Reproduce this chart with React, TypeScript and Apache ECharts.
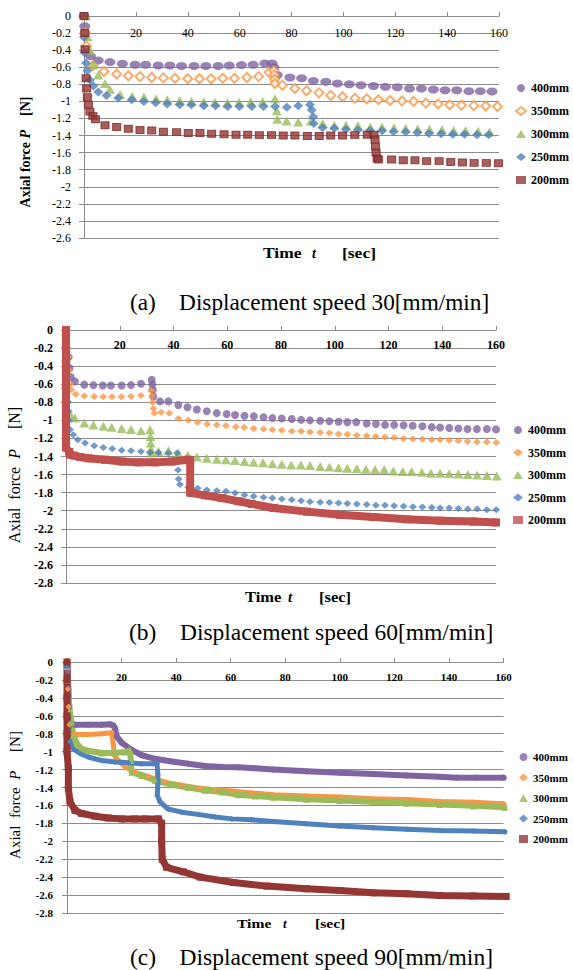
import React, { useEffect, useRef } from "react";
import * as echarts from "echarts";

type P = [number, number][];

const NAMES = ["400mm", "350mm", "300mm", "250mm", "200mm"];
const X_MIN = 0;
const X_MAX = 160;
const X_STEP = 20;
const Y_STEP = 0.2;
const Y_MINS = [-2.6, -2.8, -2.8];
const CAPTIONS = [
  "(a)    Displacement speed 30[mm/min]",
  "(b)    Displacement speed 60[mm/min]",
  "(c)    Displacement speed 90[mm/min]",
];

// ---------- (a) displacement speed 30 mm/min ----------
const a400: P = [[0,0],[0.3,-0.12],[2.5,-0.47],[5.5,-0.52],[10,-0.54],[14.8,-0.56],[19.7,-0.57],[23.8,-0.57],[28.6,-0.58],[33.1,-0.58],[37.6,-0.585],[42.4,-0.585],[47,-0.585],[51.7,-0.585],[56,-0.58],[60.7,-0.575],[65.2,-0.57],[69.7,-0.555],[72.5,-0.555],[73.2,-0.6],[74.5,-0.69],[79.4,-0.72],[83.9,-0.73],[88.4,-0.76],[93.2,-0.77],[97.7,-0.79],[102.3,-0.8],[106.8,-0.81],[111.6,-0.82],[116.2,-0.83],[120.8,-0.835],[125.5,-0.85],[130.1,-0.85],[134.7,-0.86],[139.2,-0.87],[143.7,-0.87],[148.4,-0.88],[152.8,-0.88],[157.3,-0.885]];
const a350: P = [[0.5,-0.2],[1,-0.35],[3.5,-0.58],[7.7,-0.65],[12.6,-0.68],[17.1,-0.7],[21.6,-0.71],[26.1,-0.72],[30.6,-0.725],[35.1,-0.73],[40,-0.735],[44.5,-0.735],[49,-0.735],[53.5,-0.73],[58,-0.73],[62.8,-0.72],[67.3,-0.71],[71.4,-0.66],[73.2,-0.64],[73.4,-0.69],[73.5,-0.74],[73.6,-0.79],[76.5,-0.81],[81.3,-0.85],[85.8,-0.875],[90.6,-0.9],[95.1,-0.93],[99.7,-0.945],[104.5,-0.965],[109,-0.97],[113.5,-0.98],[118,-0.99],[122.6,-0.995],[127.1,-1.0],[131.8,-1.02],[136.5,-1.03],[141,-1.04],[145.5,-1.045],[150.3,-1.05],[154.9,-1.055],[159.4,-1.06]];
const a300: P = [[0.8,0],[1.3,-0.24],[2.3,-0.4],[3.6,-0.57],[5.5,-0.69],[8.1,-0.79],[10,-0.86],[13.9,-0.92],[18.6,-0.94],[23.1,-0.95],[27.8,-0.97],[32.1,-0.98],[36.9,-0.99],[41.4,-1.0],[46.2,-1.005],[50.5,-1.01],[55.3,-1.015],[59.8,-1.01],[64.3,-1.005],[68.9,-1.0],[73.6,-0.97],[74.3,-1.11],[74.5,-1.21],[78.1,-1.23],[82.6,-1.24],[87.5,-1.23],[92,-1.26],[96.5,-1.28],[101,-1.28],[105.6,-1.285],[110.4,-1.3],[114.9,-1.3],[119.5,-1.31],[124,-1.315],[128.7,-1.32],[133.2,-1.325],[138,-1.33],[142.5,-1.34],[147.1,-1.345],[151.9,-1.35],[156.4,-1.36]];
const a250: P = [[0,-0.25],[0.3,-0.43],[0.8,-0.55],[1.3,-0.64],[2.3,-0.75],[3.6,-0.82],[5.5,-0.89],[8.7,-0.93],[13.2,-0.96],[18.4,-0.98],[23.1,-1.0],[27.6,-1.015],[32.1,-1.03],[36.9,-1.04],[41.4,-1.04],[46.2,-1.05],[50.7,-1.05],[55.4,-1.06],[59.9,-1.06],[64.7,-1.06],[69.2,-1.06],[73.7,-1.06],[78.2,-1.07],[82.6,-1.05],[87.1,-1.04],[87.8,-1.1],[88.4,-1.18],[88.6,-1.26],[92,-1.31],[96.5,-1.315],[101,-1.33],[105.6,-1.335],[110.2,-1.34],[114.9,-1.345],[119.3,-1.355],[124,-1.36],[128.5,-1.365],[133,-1.375],[137.7,-1.38],[142.2,-1.385],[146.7,-1.385],[151.5,-1.39],[156,-1.39]];
const a200: P = [[0,0],[0.3,-0.2],[0.4,-0.39],[0.8,-0.73],[1,-0.85],[1.3,-0.95],[1.7,-1.04],[2.3,-1.12],[3.4,-1.17],[4.4,-1.21],[8.1,-1.28],[12.6,-1.3],[17.1,-1.32],[21.6,-1.335],[26.1,-1.34],[30.6,-1.355],[35.7,-1.36],[40.2,-1.37],[44.7,-1.37],[49.2,-1.38],[54,-1.385],[58.6,-1.39],[63.1,-1.39],[67.6,-1.395],[72.3,-1.395],[76.8,-1.4],[81.3,-1.4],[86.1,-1.405],[90.7,-1.405],[95.1,-1.4],[99.7,-1.4],[104.4,-1.395],[109.2,-1.39],[111.8,-1.39],[112.2,-1.45],[112.4,-1.53],[112.6,-1.6],[113,-1.67],[113.5,-1.68],[118.6,-1.68],[123.1,-1.69],[127.6,-1.69],[132.1,-1.7],[136.9,-1.7],[141.4,-1.71],[145.9,-1.715],[150.4,-1.72],[155.1,-1.72],[159.8,-1.725]];

// ---------- (b) displacement speed 60 mm/min ----------
const b400: P = [[1,-0.3],[1.3,-0.42],[1.8,-0.52],[3.3,-0.57],[6.8,-0.605],[10.2,-0.61],[13.7,-0.615],[16.7,-0.615],[20.7,-0.615],[24.2,-0.61],[27.9,-0.595],[31.9,-0.55],[32.1,-0.6],[32.3,-0.66],[32.5,-0.735],[35,-0.79],[38.1,-0.79],[41.8,-0.83],[45.2,-0.855],[48.7,-0.88],[52.4,-0.9],[56.1,-0.92],[59.8,-0.93],[62.9,-0.94],[66.4,-0.95],[69.9,-0.955],[73.5,-0.965],[76.8,-0.975],[80.3,-0.98],[84,-0.985],[87.5,-0.995],[90.8,-1.0],[94.6,-1.005],[98,-1.01],[101.4,-1.015],[104.7,-1.02],[108,-1.02],[111.9,-1.035],[115.3,-1.04],[118.7,-1.05],[122.1,-1.05],[125.6,-1.055],[129,-1.06],[132.6,-1.065],[136.1,-1.075],[139.2,-1.08],[142.6,-1.085],[146,-1.09],[149.4,-1.095],[152.9,-1.095],[156.6,-1.095],[160,-1.1]];
const b350: P = [[0.8,-0.3],[1.2,-0.45],[1.6,-0.6],[2,-0.66],[3.6,-0.71],[6.8,-0.73],[10.5,-0.735],[13.8,-0.74],[17.1,-0.74],[20.6,-0.74],[24.2,-0.735],[27.9,-0.725],[31.7,-0.67],[32,-0.73],[32.2,-0.8],[32.5,-0.87],[32.9,-0.92],[35.4,-0.91],[38.4,-0.92],[41.8,-0.98],[45.5,-1.0],[49,-1.02],[52.5,-1.04],[56.1,-1.05],[59.5,-1.06],[63.2,-1.07],[66.3,-1.08],[69.8,-1.09],[73.5,-1.095],[76.8,-1.105],[80.3,-1.11],[84,-1.12],[87.5,-1.12],[90.8,-1.13],[94.6,-1.135],[98,-1.14],[101.4,-1.15],[104.7,-1.155],[108.2,-1.165],[111.9,-1.17],[115.3,-1.18],[118.7,-1.185],[122.1,-1.19],[125.6,-1.2],[129.1,-1.205],[132.6,-1.21],[136.1,-1.215],[139.2,-1.215],[142.6,-1.22],[146,-1.225],[149.4,-1.235],[152.9,-1.24],[156.6,-1.24],[160.1,-1.245]];
const b300: P = [[0,-0.02],[0,-0.15],[0,-0.3],[0,-0.45],[0,-0.6],[0,-0.75],[0,-0.9],[1.5,-0.93],[3.3,-0.975],[6.8,-1.03],[10.2,-1.05],[13.9,-1.065],[17,-1.075],[20.7,-1.09],[24.2,-1.1],[27.9,-1.115],[31.3,-1.105],[31.4,-1.18],[31.5,-1.25],[31.6,-1.32],[31.7,-1.36],[34.4,-1.345],[38.1,-1.335],[41.8,-1.36],[45.3,-1.39],[48.7,-1.405],[52.4,-1.42],[56.1,-1.43],[59.5,-1.435],[62.9,-1.445],[66.4,-1.455],[69.8,-1.465],[73.3,-1.47],[76.8,-1.48],[80.3,-1.485],[83.8,-1.495],[87.4,-1.495],[90.8,-1.5],[94.6,-1.51],[98,-1.515],[101.4,-1.525],[104.7,-1.53],[108.2,-1.535],[111.6,-1.54],[115,-1.545],[118.4,-1.545],[121.8,-1.56],[125.3,-1.565],[128.6,-1.565],[132.4,-1.575],[135.8,-1.585],[139.2,-1.585],[142.6,-1.59],[146,-1.595],[149.5,-1.6],[153,-1.605],[156.6,-1.61],[160.3,-1.615]];
const b250: P = [[0.8,-0.8],[1,-0.9],[1.2,-1.0],[1.5,-1.1],[2.7,-1.16],[4.4,-1.215],[7.1,-1.25],[10.5,-1.28],[13.9,-1.3],[17.2,-1.315],[20.7,-1.33],[24.2,-1.335],[27.9,-1.345],[31.3,-1.355],[34.4,-1.355],[38.1,-1.36],[41.3,-1.36],[41.5,-1.45],[41.7,-1.55],[41.9,-1.65],[42.4,-1.71],[45.5,-1.74],[49,-1.75],[52.4,-1.77],[56.1,-1.78],[59.5,-1.785],[62.9,-1.805],[66.4,-1.825],[69.8,-1.84],[73.5,-1.85],[76.8,-1.86],[80.3,-1.87],[84,-1.88],[87.5,-1.89],[90.8,-1.9],[94.6,-1.905],[98,-1.91],[101.4,-1.915],[104.7,-1.92],[108.2,-1.925],[111.9,-1.93],[115.3,-1.94],[118.7,-1.94],[122.1,-1.945],[125.6,-1.95],[129.1,-1.955],[132.6,-1.96],[136.1,-1.965],[139.2,-1.97],[142.6,-1.97],[146,-1.975],[149.5,-1.98],[153,-1.98],[156.6,-1.99],[160.1,-1.99]];
const b200: P = [[0,0],[0,-0.7],[0,-1.3],[1.2,-1.35],[1.5,-1.38],[3,-1.39],[5.2,-1.405],[8.3,-1.42],[14.5,-1.435],[20.7,-1.455],[26.9,-1.465],[33.1,-1.465],[39.4,-1.455],[45.5,-1.435],[46.2,-1.44],[46.2,-1.8],[47,-1.805],[51.8,-1.83],[58,-1.86],[64.1,-1.895],[69.1,-1.925],[77.2,-1.97],[89.6,-2.01],[102,-2.045],[114.4,-2.07],[126.8,-2.095],[139.2,-2.11],[151.6,-2.12],[160,-2.13]];

// ---------- (c) displacement speed 90 mm/min ----------
const c400: P = [[0,0],[0.3,-0.1],[0.5,-0.3],[0.8,-0.5],[1.1,-0.69],[2.9,-0.7],[7.8,-0.7],[12.7,-0.7],[15.8,-0.695],[17,-0.71],[17.6,-0.74],[18.2,-0.83],[20,-0.9],[23.7,-0.98],[27.4,-1.04],[32.3,-1.08],[38.4,-1.11],[44.5,-1.135],[50.6,-1.16],[56.7,-1.17],[62.8,-1.175],[68.9,-1.185],[75.6,-1.2],[87.8,-1.22],[100,-1.235],[112.3,-1.25],[124.5,-1.265],[136.7,-1.28],[142.8,-1.29],[150,-1.29],[160,-1.29]];
const c350: P = [[0.3,-0.3],[0.6,-0.5],[0.9,-0.7],[1.5,-0.79],[2.9,-0.81],[7.8,-0.81],[12.7,-0.8],[16.4,-0.79],[17,-0.93],[17.4,-1.04],[18,-1.07],[21.3,-1.17],[24.9,-1.23],[29.8,-1.28],[35.9,-1.34],[42,-1.375],[48.1,-1.405],[54.3,-1.425],[60.4,-1.44],[67.7,-1.46],[75.6,-1.48],[87.8,-1.495],[100,-1.505],[112.3,-1.525],[124.5,-1.535],[136.7,-1.555],[148.9,-1.565],[160,-1.58]];
const c300: P = [[0,-0.05],[0.3,-0.2],[0.6,-0.4],[1,-0.55],[1.7,-0.67],[2.3,-0.82],[3.6,-0.91],[5.4,-0.97],[7.8,-0.99],[12.7,-1.015],[17.6,-1.015],[21.3,-1.005],[23.1,-0.985],[23.4,-1.1],[23.7,-1.23],[27.4,-1.265],[32.3,-1.32],[38.4,-1.37],[44.5,-1.4],[50.6,-1.43],[56.7,-1.45],[62.8,-1.48],[68.9,-1.495],[75.6,-1.51],[87.8,-1.53],[100,-1.545],[112.3,-1.56],[124.5,-1.575],[136.7,-1.59],[148.9,-1.605],[160.5,-1.62]];
const c250: P = [[0,-0.05],[0.2,-0.2],[0.4,-0.4],[0.6,-0.6],[0.8,-0.78],[1.1,-0.89],[2.3,-0.97],[4.8,-1.02],[7.8,-1.06],[12.7,-1.1],[17.6,-1.115],[22.5,-1.125],[27.4,-1.135],[31.6,-1.135],[33,-1.13],[33.3,-1.26],[33.3,-1.36],[33.1,-1.49],[34.1,-1.56],[37.1,-1.64],[42,-1.675],[48.1,-1.7],[54.3,-1.73],[60.4,-1.75],[67.7,-1.76],[75.6,-1.78],[87.8,-1.805],[100,-1.83],[112.3,-1.85],[124.5,-1.865],[136.7,-1.88],[148.9,-1.885],[160.5,-1.895]];
const c200: P = [[0,0],[0,-0.2],[0,-0.4],[0,-0.6],[0,-0.8],[0,-1.0],[0.5,-1.19],[0.5,-1.41],[1.1,-1.56],[2.9,-1.655],[5.4,-1.69],[10.3,-1.72],[15.1,-1.74],[20,-1.75],[24.9,-1.75],[28.6,-1.75],[33.5,-1.75],[34.7,-1.8],[34.7,-2.0],[34.9,-2.2],[36.5,-2.29],[42.6,-2.34],[48.8,-2.4],[61,-2.46],[73.2,-2.5],[87.8,-2.53],[100,-2.55],[112.3,-2.575],[124.5,-2.585],[136.7,-2.605],[148.9,-2.61],[161,-2.615]];

const F = "'Liberation Serif','Times New Roman',serif";
const PURPLE = "#8064A2";
const ORANGE = "#F79646";
const GREEN = "#9BBB59";
const BLUE = "#4F81BD";
const RED_A = "#953735";
const RED_B = "#C0504D";
const RED_C = "#943634";
const GRID_C = "#8c8c8c";

const GRIDS = [
  { left: 84, top: 16, width: 415, height: 222 },
  { left: 66, top: 330, width: 430, height: 253 },
  { left: 67, top: 662, width: 436.5, height: 251 },
];

function sc(name: string, data: P, gi: number, symbol: string, size: any, itemStyle: any) {
  return { type: "scatter", name, data, xAxisIndex: gi, yAxisIndex: gi, symbol, symbolSize: size, itemStyle, clip: false };
}
function ln(name: string, data: P, gi: number, symbol: string, size: any, color: string, width: number) {
  return {
    type: "line", name, data, xAxisIndex: gi, yAxisIndex: gi, symbol, symbolSize: size, showSymbol: true,
    itemStyle: { color }, lineStyle: { color, width, cap: "round", join: "round" }, clip: false,
  };
}

function xAxis(gi: number, bold: boolean, size: number, margin: number) {
  return {
    gridIndex: gi, type: "value", position: "top", min: X_MIN, max: X_MAX, interval: X_STEP,
    axisLine: { show: true, onZero: false, lineStyle: { color: GRID_C, width: 1 } },
    axisTick: { show: true, length: 4, lineStyle: { color: GRID_C } },
    axisLabel: { inside: true, margin, color: "#000", fontFamily: F, fontSize: size, fontWeight: bold ? "bold" : "normal" },
    splitLine: { show: false },
  };
}
function yAxis(gi: number, bold: boolean, size: number, margin: number) {
  return {
    gridIndex: gi, type: "value", min: Y_MINS[gi], max: 0, interval: Y_STEP,
    axisLine: { show: true, onZero: false, lineStyle: { color: GRID_C, width: 1 } },
    axisTick: { show: true, length: 5, lineStyle: { color: GRID_C } },
    axisLabel: {
      margin, color: "#000", fontFamily: F, fontSize: size, fontWeight: bold ? "bold" : "normal",
      formatter: (v: number) => String(Math.round(v * 10) / 10),
    },
    splitLine: { show: true, lineStyle: { color: GRID_C, width: 1 } },
  };
}

function legend(left: number, top: number, gap: number, size: number, iw: number, ih: number, styles: any[]) {
  const icons = ["circle", "diamond", "triangle", "diamond", "rect"];
  return {
    orient: "vertical", left, top, padding: 0, itemGap: gap, itemWidth: iw, itemHeight: ih, selectedMode: false,
    textStyle: { fontFamily: F, fontWeight: "bold", fontSize: size, lineHeight: size, color: "#000" },
    data: NAMES.map((n, i) => ({ name: n, icon: icons[i], itemStyle: styles[i] })),
  };
}

function txt(x: number, y: number, text: string, font: string, scaleX = 1) {
  return { type: "text", x, y, scaleX, style: { text, font, fill: "#000", align: "left", verticalAlign: "middle" } };
}
function ytitle(x: number, y: number, size: number, weight: string, spaces: string) {
  return {
    type: "text", x, y, rotation: Math.PI / 2,
    style: {
      text: `{n|Axial${spaces}force${spaces}}{i|P}{n|${spaces}   [N]}`,
      align: "center", verticalAlign: "middle", fill: "#000",
      rich: {
        n: { fontFamily: F, fontSize: size, fontWeight: weight, fill: "#000" },
        i: { fontFamily: F, fontSize: size, fontWeight: weight, fontStyle: "italic", fill: "#000" },
      },
    },
  };
}

const option: any = {
  animation: false,
  backgroundColor: "#fff",
  grid: GRIDS.map((g) => ({ ...g, containLabel: false })),
  xAxis: [xAxis(0, false, 12, 11), xAxis(1, true, 12, 9), xAxis(2, true, 11, 9)],
  yAxis: [yAxis(0, false, 12, 13), yAxis(1, true, 12, 13), yAxis(2, true, 11, 14)],
  legend: [
    legend(515, 82, 11, 12, 10, 8, [
      { color: PURPLE, borderWidth: 0 },
      { color: "#fff", borderColor: ORANGE, borderWidth: 2 },
      { color: GREEN, borderWidth: 0 },
      { color: BLUE, borderWidth: 0 },
      { color: RED_A, borderWidth: 0 },
    ]),
    legend(513, 424, 10.5, 12, 10, 8, [
      { color: PURPLE, borderWidth: 0 },
      { color: ORANGE, borderWidth: 0 },
      { color: GREEN, borderWidth: 0 },
      { color: BLUE, borderWidth: 0 },
      { color: RED_B, borderWidth: 0 },
    ]),
    legend(519, 751.5, 9.5, 11, 9, 8, [
      { color: PURPLE, borderWidth: 0 },
      { color: ORANGE, borderWidth: 0 },
      { color: GREEN, borderWidth: 0 },
      { color: BLUE, borderWidth: 0 },
      { color: RED_C, borderWidth: 0 },
    ]),
  ],
  series: [
    sc(NAMES[0], a400, 0, "circle", [11, 8], { color: PURPLE }),
    sc(NAMES[1], a350, 0, "diamond", [9, 9], { color: "#fff", borderColor: ORANGE, borderWidth: 2 }),
    sc(NAMES[2], a300, 0, "triangle", [10, 9], { color: GREEN }),
    sc(NAMES[3], a250, 0, "diamond", [10, 9], { color: BLUE }),
    sc(NAMES[4], a200, 0, "rect", [8, 7], { color: RED_A, borderColor: "#7a2b29", borderWidth: 1 }),

    sc(NAMES[0], b400, 1, "circle", 8, { color: PURPLE }),
    sc(NAMES[1], b350, 1, "diamond", [8, 7], { color: ORANGE }),
    sc(NAMES[2], b300, 1, "triangle", [10, 9], { color: GREEN }),
    sc(NAMES[3], b250, 1, "diamond", [8, 7], { color: BLUE }),
    ln(NAMES[4], b200, 1, "rect", 8, RED_B, 8),

    ln(NAMES[0], c400, 2, "circle", 6, PURPLE, 6),
    ln(NAMES[1], c350, 2, "diamond", 6, ORANGE, 5),
    ln(NAMES[2], c300, 2, "triangle", 7, GREEN, 6),
    ln(NAMES[3], c250, 2, "diamond", 6, BLUE, 5),
    ln(NAMES[4], c200, 2, "rect", 7, RED_C, 7),
  ],
  graphic: [
    ytitle(25, 152, 14, "bold", " "),
    ytitle(14, 475, 16, "normal", "  "),
    ytitle(15, 795, 15, "normal", "  "),
    txt(263, 253, "Time", `bold 14px ${F}`, 1.25),
    txt(312, 253, "t", `italic bold 14px ${F}`),
    txt(342, 253, "[sec]", `bold 14px ${F}`, 1.25),
    txt(245, 597, "Time", `bold 15px ${F}`, 1.1),
    txt(288, 597, "t", `italic bold 15px ${F}`),
    txt(319, 597, "[sec]", `bold 15px ${F}`, 1.1),
    txt(237, 923, "Time", `bold 13px ${F}`, 1.2),
    txt(283, 923, "t", `italic bold 13px ${F}`),
    txt(315, 923, "[sec]", `bold 13px ${F}`, 1.2),
    txt(130, 302, CAPTIONS[0], `24px ${F}`, 0.97),
    txt(129, 632, CAPTIONS[1], `24px ${F}`, 0.98),
    txt(130, 957, CAPTIONS[2], `24px ${F}`, 0.98),
  ],
};

export default function App() {
  const ref = useRef<HTMLDivElement>(null);
  useEffect(() => {
    const chart = echarts.init(ref.current!, null, { renderer: "svg" });
    chart.setOption(option);
    return () => chart.dispose();
  }, []);
  return (
    <div
      ref={ref}
      style={{ position: "fixed", left: 0, top: 0, width: 573, height: 970, background: "#fff" }}
    />
  );
}
